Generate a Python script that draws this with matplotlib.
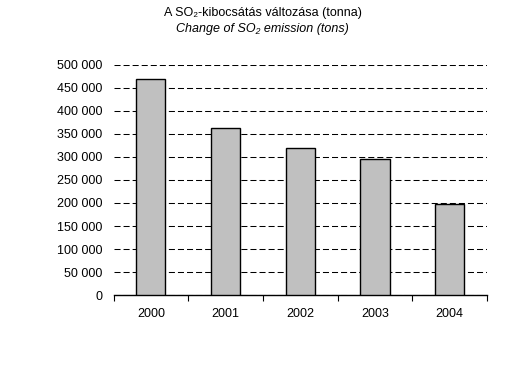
import matplotlib
matplotlib.use("Agg")
import matplotlib.pyplot as plt

years = ["2000", "2001", "2002", "2003", "2004"]
emission = [470000, 363000, 320000, 296000, 197000]
yticks = [0, 50000, 100000, 150000, 200000, 250000, 300000, 350000, 400000, 450000, 500000]

plt.rcParams['font.family'] = ['Liberation Sans', 'DejaVu Sans']

fig = plt.figure(figsize=(5.25, 3.73), dpi=100)
ax = fig.add_axes([0.2162, 0.209, 0.7114, 0.617])

x = list(range(len(years)))
ax.bar(x, emission, width=0.39, color='#c0c0c0', edgecolor='black', linewidth=1, zorder=3)

ax.set_xlim(-0.5, len(years) - 0.5)
ax.set_ylim(0, 500000)
ax.set_yticks(yticks)
ax.set_yticklabels([f"{v:,}".replace(",", " ") for v in yticks], fontsize=9)
ax.yaxis.grid(True, linestyle=(0, (5.8, 2.9)), color='black', linewidth=0.75, zorder=0)
ax.tick_params(axis='y', length=0, pad=8)

ax.set_xticks([i - 0.5 for i in range(len(years) + 1)], minor=False)
ax.set_xticklabels([])
ax.set_xticks(x, minor=True)
ax.set_xticklabels(years, minor=True, fontsize=9)
ax.tick_params(axis='x', which='major', length=4, direction='out', color='black')
ax.tick_params(axis='x', which='minor', length=0, pad=9)

for s in ['top', 'right', 'left']:
    ax.spines[s].set_visible(False)
ax.spines['bottom'].set_linewidth(1)

fig.text(0.5, 0.966, "A SO₂-kibocsátás változása (tonna)", ha='center', va='center', fontsize=9)
fig.text(0.5, 0.923, "Change of SO₂ emission (tons)", ha='center', va='center', fontsize=9, style='italic')

fig.savefig("out.png", dpi=100)
